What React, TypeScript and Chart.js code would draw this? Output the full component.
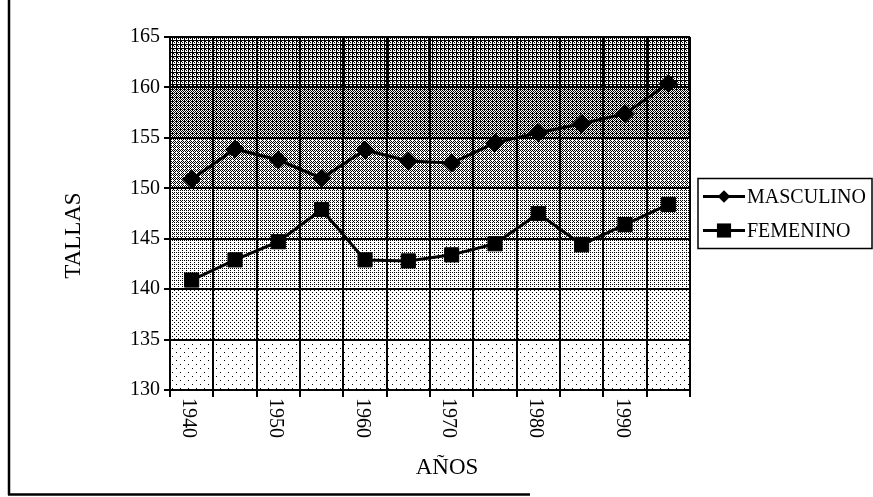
import React, { useEffect, useRef } from 'react';
import { Chart, registerables } from 'chart.js';

Chart.register(...registerables);

// ---- data ----
const years = ['1940', '1945', '1950', '1955', '1960', '1965', '1970', '1975', '1980', '1985', '1990', '1995'];
const labeledYears = ['1940', '1950', '1960', '1970', '1980', '1990'];
const masculino = [150.9, 153.9, 152.8, 151.0, 153.8, 152.7, 152.5, 154.5, 155.5, 156.4, 157.4, 160.4];
const femenino = [140.9, 142.9, 144.7, 147.9, 142.9, 142.8, 143.4, 144.5, 147.5, 144.4, 146.4, 148.4];
const seriesNames = ['MASCULINO', 'FEMENINO'];
const yMin = 130;
const yMax = 165;
const yStep = 5;
const yTitle = 'TALLAS';
const xTitle = 'AÑOS';

const FONT = "'Liberation Serif', 'Times New Roman', serif";

type Pred = (x: number, y: number) => boolean;

function makePattern(size: number, pred: Pred): CanvasPattern | string {
  const c = document.createElement('canvas');
  c.width = size;
  c.height = size;
  const g = c.getContext('2d');
  if (!g) return '#ccc';
  g.fillStyle = '#fff';
  g.fillRect(0, 0, size, size);
  g.fillStyle = '#000';
  for (let y = 0; y < size; y++) {
    for (let x = 0; x < size; x++) {
      if (pred(x, y)) g.fillRect(x, y, 1, 1);
    }
  }
  const p = g.createPattern(c, 'repeat');
  return p || '#ccc';
}

function buildBandPatterns(): (CanvasPattern | string)[] {
  return [
    makePattern(8, (x, y) => (x === 0 && y === 0) || (x === 4 && y === 4)),
    makePattern(4, (x, y) => (x === 0 && y === 0) || (x === 2 && y === 2)),
    makePattern(4, (x, y) => (x === 0 && y === 0) || (x === 2 && y === 2) || (x === 2 && y === 0)),
    makePattern(4, (x, y) => (x % 2 === 0 && y % 2 === 0) || (x === 1 && y === 1)),
    makePattern(4, (x, y) => (x + y) % 2 === 0 && !(x === 0 && y === 0)),
    makePattern(4, (x, y) => (x + y) % 2 === 0 || (x === 0 && y === 1)),
    makePattern(4, (x, y) => x === 0 || y === 0 || (x === 2 && y === 2) || (x === 1 && y === 1)),
  ];
}

function drawMarker(ctx: CanvasRenderingContext2D, style: string, x: number, y: number, r: number) {
  ctx.beginPath();
  const s = r * Math.SQRT1_2;
  if (style === 'rect') {
    ctx.rect(x - s, y - s, 2 * s, 2 * s);
  } else {
    ctx.moveTo(x - s, y);
    ctx.lineTo(x, y + s);
    ctx.lineTo(x + s, y);
    ctx.lineTo(x, y - s);
    ctx.closePath();
  }
  ctx.fill();
}

export default function App() {
  const ref = useRef<HTMLCanvasElement | null>(null);

  useEffect(() => {
    const canvas = ref.current;
    if (!canvas) return;
    const patterns = buildBandPatterns();

    const decor = {
      id: 'decor',
      beforeDraw(chart: any) {
        const { ctx, chartArea: ca, scales } = chart;
        const ys = scales.y;
        ctx.save();
        ctx.fillStyle = '#fff';
        ctx.fillRect(0, 0, chart.width, chart.height);
        const n = Math.round((yMax - yMin) / yStep);
        for (let i = 0; i < n; i++) {
          const v0 = yMin + i * yStep;
          const v1 = v0 + yStep;
          const top = ys.getPixelForValue(v1);
          const bot = ys.getPixelForValue(v0);
          ctx.fillStyle = patterns[Math.min(i, patterns.length - 1)];
          ctx.fillRect(ca.left, top, ca.right - ca.left, bot - top);
        }
        ctx.restore();
      },
      afterDraw(chart: any) {
        const { ctx, chartArea: ca, scales } = chart;
        const xs = scales.x;
        ctx.save();
        ctx.fillStyle = '#000';
        ctx.strokeStyle = '#000';

        // x tick labels rotated clockwise
        ctx.font = `20px ${FONT}`;
        ctx.textAlign = 'left';
        ctx.textBaseline = 'middle';
        years.forEach((yr, i) => {
          if (!labeledYears.includes(yr)) return;
          const px = xs.getPixelForValue(i) - 3;
          ctx.save();
          ctx.translate(px, ca.bottom + 8);
          ctx.rotate(Math.PI / 2);
          ctx.fillText(yr, 0, 0);
          ctx.restore();
        });

        // axis titles
        ctx.font = `23px ${FONT}`;
        ctx.textAlign = 'center';
        ctx.textBaseline = 'middle';
        ctx.save();
        ctx.translate(74, (ca.top + ca.bottom) / 2 + 22);
        ctx.rotate(-Math.PI / 2);
        ctx.fillText(yTitle, 0, 0);
        ctx.restore();
        ctx.fillText(xTitle, (ca.left + ca.right) / 2 + 17, 468);

        // legend
        const lx = ca.right + 8;
        const lh = 70;
        const ly = (ca.top + ca.bottom) / 2 - lh / 2;
        ctx.lineWidth = 1.5;
        ctx.strokeRect(lx, ly, 174, lh);
        ctx.font = `20px ${FONT}`;
        ctx.textAlign = 'left';
        chart.data.datasets.forEach((ds: any, i: number) => {
          const cy = ly + 18 + i * 34;
          ctx.lineWidth = 3;
          ctx.beginPath();
          ctx.moveTo(lx + 5, cy);
          ctx.lineTo(lx + 47, cy);
          ctx.stroke();
          drawMarker(ctx, ds.pointStyle, lx + 26, cy, ds.pointRadius);
          ctx.fillText(ds.label, lx + 49, cy + 1);
        });

        // page frame (left and bottom)
        ctx.lineWidth = 2.5;
        ctx.beginPath();
        ctx.moveTo(9, 0);
        ctx.lineTo(9, 495);
        ctx.moveTo(8, 494.5);
        ctx.lineTo(530, 494.5);
        ctx.stroke();
        ctx.restore();
      },
    };

    const chart = new Chart(canvas, {
      type: 'line',
      data: {
        labels: years,
        datasets: [
          {
            label: seriesNames[0],
            data: masculino,
            borderColor: '#000',
            backgroundColor: '#000',
            borderWidth: 3,
            pointStyle: 'rectRot',
            pointRadius: 9,
            pointBackgroundColor: '#000',
            pointBorderColor: '#000',
            pointBorderWidth: 1,
            tension: 0,
          },
          {
            label: seriesNames[1],
            data: femenino,
            borderColor: '#000',
            backgroundColor: '#000',
            borderWidth: 3,
            pointStyle: 'rect',
            pointRadius: 10,
            pointBackgroundColor: '#000',
            pointBorderColor: '#000',
            pointBorderWidth: 1,
            tension: 0,
          },
        ],
      },
      options: {
        responsive: false,
        animation: false,
        devicePixelRatio: 1,
        layout: { padding: { left: 10, top: 37, right: 183, bottom: 0 } },
        plugins: {
          legend: { display: false },
          tooltip: { enabled: false },
          title: { display: false },
        },
        scales: {
          x: {
            type: 'category',
            offset: true,
            grid: { offset: true, color: '#000', lineWidth: 2, tickLength: 7, drawTicks: true },
            border: { color: '#000', width: 2 },
            ticks: { display: false, autoSkip: false },
            afterFit(s: any) {
              s.height = 107;
            },
          },
          y: {
            min: yMin,
            max: yMax,
            ticks: { stepSize: yStep, color: '#000', font: { family: FONT, size: 20 }, padding: 4 },
            grid: { color: '#000', lineWidth: 2, tickLength: 6 },
            border: { color: '#000', width: 2 },
            afterFit(s: any) {
              s.width = 160;
            },
          },
        },
      },
      plugins: [decor],
    } as any);

    return () => chart.destroy();
  }, []);

  return (
    <div style={{ position: 'absolute', left: 0, top: 0, width: 873, height: 497, background: '#fff' }}>
      <canvas ref={ref} width={873} height={497} style={{ display: 'block', width: 873, height: 497 }} />
    </div>
  );
}
